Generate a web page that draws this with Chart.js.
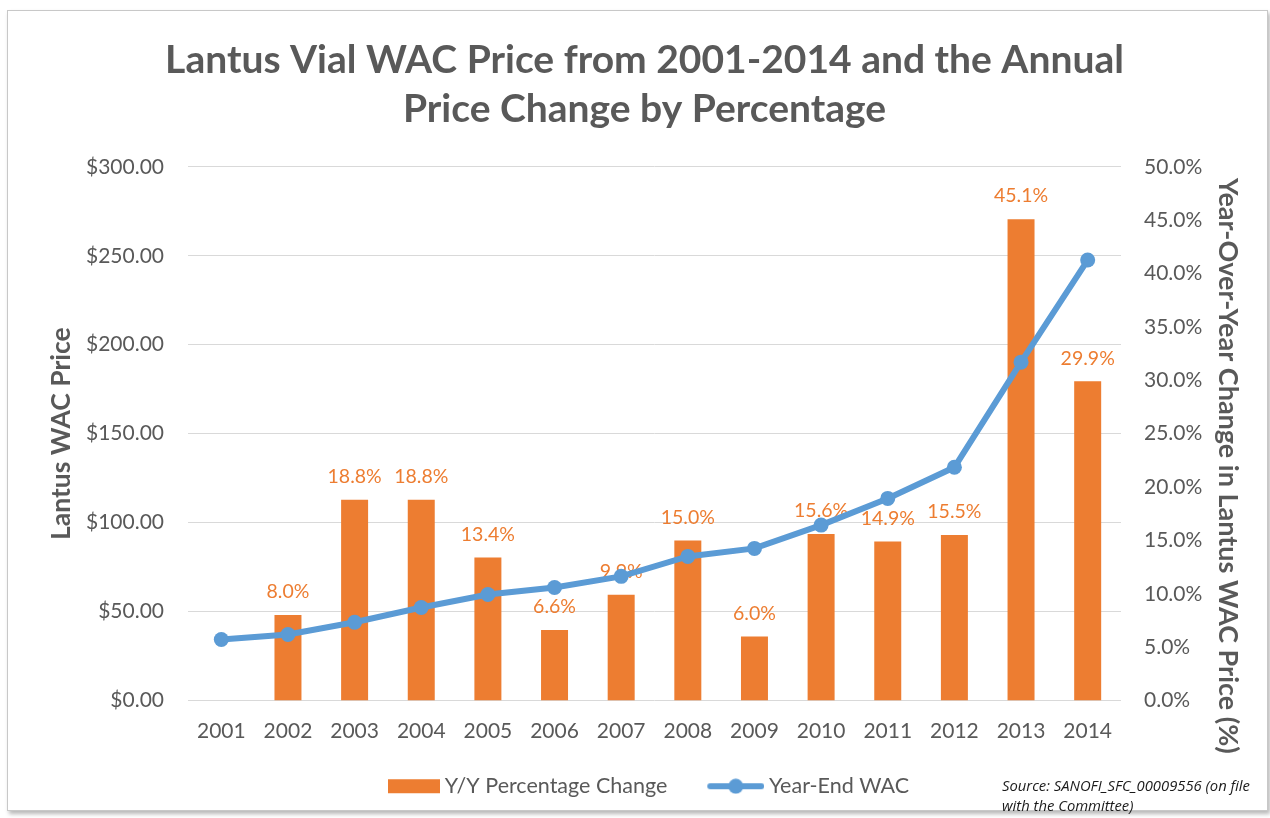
<!DOCTYPE html>
<html>
<head>
<meta charset="utf-8">
<script src="https://cdn.jsdelivr.net/npm/chart.js@4.4.1/dist/chart.umd.min.js"></script>
<style>
  body { margin: 0; background: #fff; font-family: Lato, sans-serif; }
  #frame {
    position: absolute; left: 7px; top: 10px; width: 1261px; height: 801px; box-sizing: border-box;
    border: 1px solid #c8c8c8; box-shadow: 2px 3px 4px rgba(0,0,0,0.28); background: #fff;
  }
  #frame canvas { display: block; }
  #source {
    position: absolute; left: 1002px; top: 775px; font-family: "Open Sans", sans-serif;
    font-style: italic; font-size: 14.8px; line-height: 20px;
    white-space: nowrap; color: #1a1a1a;
  }
</style>
</head>
<body>
<div id="frame"><canvas id="chart" width="1259" height="799"></canvas></div>
<div id="source">Source: SANOFI_SFC_00009556 (on file<br>with the Committee)</div>
<script>
const years = ["2001", "2002", "2003", "2004", "2005", "2006", "2007",
  "2008", "2009", "2010", "2011", "2012", "2013", "2014"];
// year-end WAC price ($)
const wacPrice = [34.3, 37.1, 44.0, 52.3, 59.6, 63.5, 69.8,
  81.0, 85.5, 98.6, 113.6, 131.1, 190.2, 247.6];
// Y/Y change (%), none for first year
const yoyChange = [null, 8.0, 18.8, 18.8, 13.4, 6.6, 9.9,
  15.0, 6.0, 15.6, 14.9, 15.5, 45.1, 29.9];

const orange = "#ED7D31";
const blue = "#5B9BD5";
const grey = "#595959";

// legend swatches, drawn on the right part of a wider image
function swatch(kind) {
  const c = document.createElement("canvas");
  c.width = 82; c.height = 16;
  const g = c.getContext("2d");
  if (kind === "bar") {
    g.fillStyle = orange;
    g.fillRect(30, 1, 52, 14);
  } else {
    g.strokeStyle = blue;
    g.lineWidth = 6;
    g.lineCap = "round";
    g.beginPath(); g.moveTo(28, 8); g.lineTo(79, 8); g.stroke();
    g.fillStyle = blue;
    g.beginPath(); g.arc(53.5, 8, 7.5, 0, Math.PI * 2); g.fill();
  }
  return c;
}

const barLabels = {
  id: "barLabels",
  afterDatasetDraw(chart, args) {
    if (args.meta.type !== "bar") return;
    const ctx = chart.ctx;
    ctx.save();
    ctx.font = "19.5px Lato";
    ctx.fillStyle = orange;
    ctx.textAlign = "center";
    ctx.textBaseline = "middle";
    args.meta.data.forEach((bar, i) => {
      const v = yoyChange[i];
      if (v == null) return;
      ctx.fillText(v.toFixed(1) + "%", bar.x, bar.y - 23);
    });
    ctx.restore();
  }
};

// right axis title sits a bit lower than the plot's middle
const rightTitle = {
  id: "rightTitle",
  afterLayout(chart) {
    // legend is a little left of the canvas centre
    chart.legend.left -= 8;
    chart.legend.right -= 8;
  },
  afterDraw(chart) {
    const s = chart.scales.y1;
    const ctx = chart.ctx;
    ctx.save();
    ctx.translate(s.right - 39, chart.chartArea.top + 299);
    ctx.rotate(Math.PI / 2);
    ctx.font = "bold 27px Lato";
    ctx.fillStyle = grey;
    ctx.textAlign = "center";
    ctx.textBaseline = "middle";
    ctx.fillText("Year-Over-Year Change in Lantus WAC Price (%)", 0, 0);
    ctx.restore();
  }
};

const ctx = document.getElementById("chart").getContext("2d");
new Chart(ctx, {
  data: {
    labels: years,
    datasets: [
      {
        type: "line",
        label: "Year-End WAC",
        data: wacPrice,
        yAxisID: "y",
        borderColor: blue,
        backgroundColor: blue,
        borderWidth: 6,
        pointRadius: 7.5,
        pointHoverRadius: 7.5,
        pointBorderWidth: 0,
        tension: 0
      },
      {
        type: "bar",
        label: "Y/Y Percentage Change",
        data: yoyChange,
        yAxisID: "y1",
        backgroundColor: orange,
        categoryPercentage: 1,
        barPercentage: 0.405
      }
    ]
  },
  options: {
    responsive: false,
    animation: false,
    layout: { padding: { left: 14, right: 0, top: 0, bottom: 3 } },
    plugins: {
      title: {
        display: true,
        text: ["Lantus Vial WAC Price from 2001-2014 and the Annual", "Price Change by Percentage"],
        color: grey,
        font: { family: "Lato", size: 39, weight: "bold", lineHeight: 1.28 },
        padding: { top: 24, bottom: 32 }
      },
      legend: {
        position: "bottom",
        labels: {
          color: grey,
          font: { family: "Lato", size: 21.5 },
          usePointStyle: true,
          pointStyleWidth: 70,
          padding: 21,
          generateLabels() {
            return [
              { text: "Y/Y Percentage Change", pointStyle: swatch("bar"), fillStyle: orange, strokeStyle: orange, lineWidth: 0, fontColor: grey, datasetIndex: 1 },
              { text: "Year-End WAC", pointStyle: swatch("line"), fillStyle: blue, strokeStyle: blue, lineWidth: 0, fontColor: grey, datasetIndex: 0 }
            ];
          }
        }
      },
      tooltip: { enabled: false }
    },
    scales: {
      x: {
        grid: { display: false },
        border: { display: false },
        ticks: { color: grey, font: { family: "Lato", size: 21 }, padding: 10 },
        afterFit(scale) { scale.height = 54; }
      },
      y: {
        position: "left",
        min: 0, max: 300,
        ticks: {
          stepSize: 50, color: grey, padding: 24,
          font: { family: "Lato", size: 21 },
          callback: v => "$" + v.toFixed(2)
        },
        grid: { color: "#d9d9d9", drawTicks: false },
        border: { display: false },
        title: {
          display: true, text: "Lantus WAC Price", color: grey,
          font: { family: "Lato", size: 26.5, weight: "bold", lineHeight: 1.2 }, padding: { top: 24 }
        },
        afterFit(scale) { scale.width = 166; }
      },
      y1: {
        position: "right",
        min: 0, max: 50,
        ticks: {
          stepSize: 5, color: grey, padding: 23,
          font: { family: "Lato", size: 21 },
          callback: v => v.toFixed(1) + "%"
        },
        grid: { display: false, drawTicks: false },
        border: { display: false },
        afterFit(scale) { scale.width = 146; }
      }
    }
  },
  plugins: [barLabels, rightTitle]
});
</script>
</body>
</html>
